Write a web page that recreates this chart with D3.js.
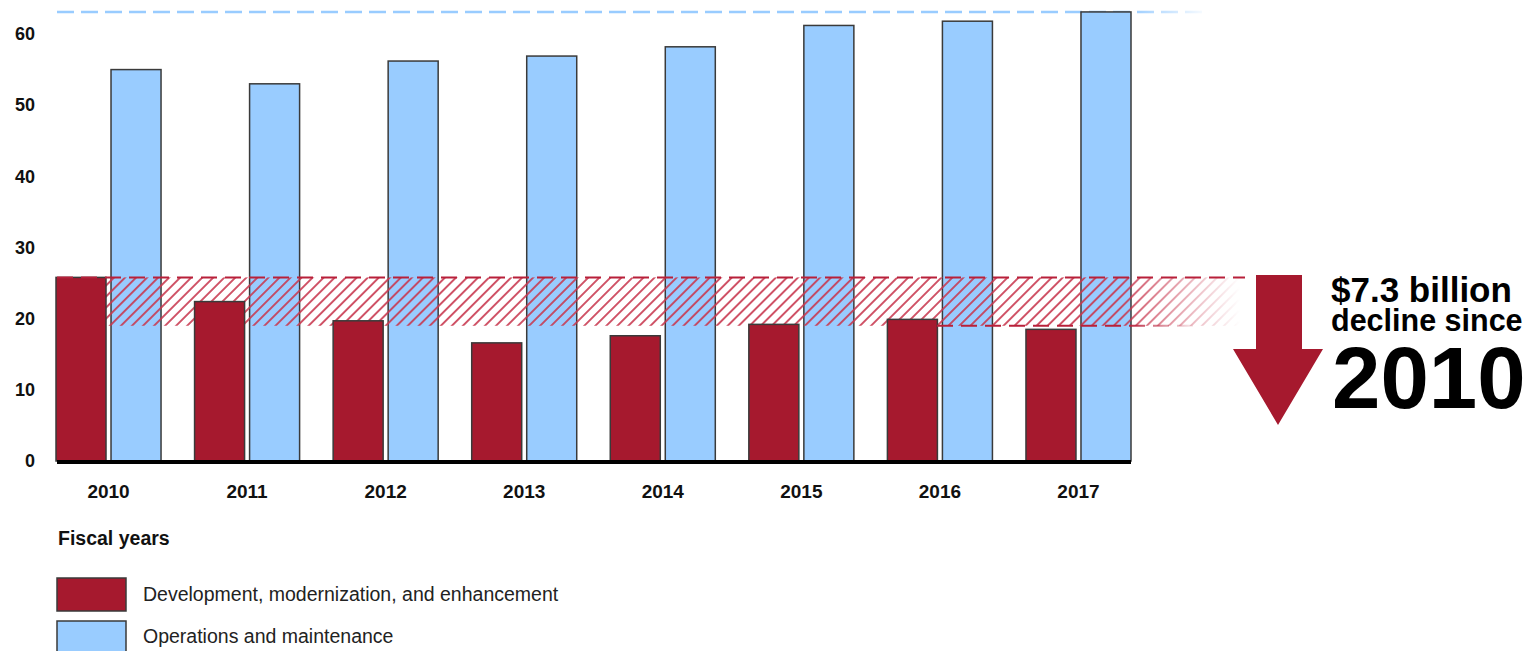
<!DOCTYPE html>
<html>
<head>
<meta charset="utf-8">
<script src="https://cdn.jsdelivr.net/npm/d3@7"></script>
<style>
  html, body { margin: 0; padding: 0; background: #fff; }
  svg { display: block; font-family: "Liberation Sans", Arial, sans-serif; }
</style>
</head>
<body>
<svg id="chart" width="1536" height="651"></svg>
<script>
// ---- data ----
const years = ["2010", "2011", "2012", "2013", "2014", "2015", "2016", "2017"];
const dme = [25.8, 22.4, 19.7, 16.6, 17.6, 19.2, 19.9, 18.5];     // Development, modernization, and enhancement
const om  = [55.0, 53.0, 56.2, 56.9, 58.2, 61.2, 61.8, 63.1];     // Operations and maintenance
const yTicks = [0, 10, 20, 30, 40, 50, 60];
const seriesNames = ["Development, modernization, and enhancement", "Operations and maintenance"];
const declineBand = [25.8, 19.0];   // hatched range annotation
const annotationLines = ["$7.3 billion", "decline since", "2010"];

const RED = "#a6192e", BLUE = "#99ccff", OUTLINE = "#3a3a3a";

const svg = d3.select("#chart");
const defs = svg.append("defs");

const x = d3.scaleBand().domain(years).range([56, 1131]).paddingInner(0.242).paddingOuter(0).align(0);
const xs = d3.scaleBand().domain(["dme", "om"]).range([0, x.bandwidth()]).paddingInner(0.0909);
const y = d3.scaleLinear().domain([0, 60]).range([461, 34]);

// hatch pattern
const pat = defs.append("pattern").attr("id", "hatch").attr("patternUnits", "userSpaceOnUse")
  .attr("width", 7.8).attr("height", 7.8).attr("patternTransform", "rotate(45)");
pat.append("line").attr("x1", 3.9).attr("y1", 0).attr("x2", 3.9).attr("y2", 7.8)
  .attr("stroke", "#c8384f").attr("stroke-width", 1.7);

function fadeMask(id, x0, x1) {
  const g = defs.append("linearGradient").attr("id", id + "g").attr("gradientUnits", "userSpaceOnUse")
    .attr("x1", x0).attr("x2", x1).attr("y1", 0).attr("y2", 0);
  g.append("stop").attr("offset", 0).attr("stop-color", "#fff").attr("stop-opacity", 1);
  g.append("stop").attr("offset", 1).attr("stop-color", "#fff").attr("stop-opacity", 0);
  defs.append("mask").attr("id", id).attr("maskUnits", "userSpaceOnUse")
    .attr("x", 0).attr("y", 0).attr("width", 1536).attr("height", 651)
    .append("rect").attr("width", 1536).attr("height", 651).attr("fill", `url(#${id}g)`);
}
fadeMask("fadeHatch", 1120, 1240);
fadeMask("fadeBlue", 1130, 1210);
fadeMask("fadeBottom", 1125, 1200);

// y-axis labels
svg.append("g").selectAll("text").data(yTicks).join("text")
  .attr("x", 35).attr("y", d => y(d)).attr("dy", "0.35em")
  .attr("text-anchor", "end").attr("font-size", 18).attr("font-weight", "bold").attr("fill", "#111")
  .text(d => d);

// blue dashed max line
const maxOm = d3.max(om);
svg.append("line").attr("x1", 57).attr("x2", 1215).attr("y1", y(maxOm)).attr("y2", y(maxOm))
  .attr("stroke", BLUE).attr("stroke-width", 2.5).attr("stroke-dasharray", "17,7")
  .attr("mask", "url(#fadeBlue)");

// O&M bars
svg.append("g").selectAll("rect").data(om).join("rect")
  .attr("x", (d, i) => x(years[i]) + xs("om"))
  .attr("y", d => y(d))
  .attr("width", xs.bandwidth())
  .attr("height", d => y(0) - y(d))
  .attr("fill", BLUE).attr("stroke", OUTLINE).attr("stroke-width", 1.5);

// hatched decline band
const bandX0 = x(years[0]) + xs("dme");
svg.append("rect").attr("x", bandX0).attr("y", y(declineBand[0]))
  .attr("width", 1245 - bandX0).attr("height", y(declineBand[1]) - y(declineBand[0]))
  .attr("fill", "url(#hatch)").attr("mask", "url(#fadeHatch)");

// DME bars
svg.append("g").selectAll("rect").data(dme).join("rect")
  .attr("x", (d, i) => x(years[i]) + xs("dme"))
  .attr("y", d => y(d))
  .attr("width", xs.bandwidth())
  .attr("height", d => y(0) - y(d))
  .attr("fill", RED).attr("stroke", OUTLINE).attr("stroke-width", 1.5);

// band dashed edges
svg.append("line").attr("x1", 57).attr("x2", 1245).attr("y1", y(declineBand[0])).attr("y2", y(declineBand[0]))
  .attr("stroke", "#b8203a").attr("stroke-width", 2).attr("stroke-dasharray", "16,8");
svg.append("line").attr("x1", 937).attr("x2", 1205).attr("y1", y(declineBand[1])).attr("y2", y(declineBand[1]))
  .attr("stroke", "#b8203a").attr("stroke-width", 2).attr("stroke-dasharray", "16,8")
  .attr("mask", "url(#fadeBottom)");

// baseline axis
svg.append("line").attr("x1", 57).attr("x2", 1131).attr("y1", y(0) + 1).attr("y2", y(0) + 1)
  .attr("stroke", "#000").attr("stroke-width", 4);

// x labels
svg.append("g").selectAll("text").data(years).join("text")
  .attr("x", d => x(d) + x.bandwidth() / 2).attr("y", 491).attr("dy", "0.35em")
  .attr("text-anchor", "middle").attr("font-size", 19).attr("font-weight", "bold").attr("fill", "#111")
  .text(d => d);

// Fiscal years
svg.append("text").attr("x", 58).attr("y", 538).attr("dy", "0.35em")
  .attr("font-size", 19.5).attr("font-weight", "bold").attr("fill", "#111").text("Fiscal years");

// legend
const legend = svg.append("g");
[RED, BLUE].forEach((c, i) => {
  legend.append("rect").attr("x", 57).attr("y", 578 + i * 43).attr("width", 69).attr("height", 33)
    .attr("fill", c).attr("stroke", OUTLINE).attr("stroke-width", 1.5);
  legend.append("text").attr("x", 143).attr("y", 594 + i * 42).attr("dy", "0.35em")
    .attr("font-size", 19.5).attr("fill", "#222").text(seriesNames[i]);
});

// arrow annotation
svg.append("path")
  .attr("d", "M1256,275 L1302,275 L1302,349 L1323,349 L1278,425 L1233,349 L1256,349 Z")
  .attr("fill", RED);

// annotation text block (one text element, three lines)
const ann = svg.append("text").attr("font-weight", "bold").attr("fill", "#000");
ann.append("tspan").attr("x", 1331).attr("y", 302).attr("font-size", 35).text(annotationLines[0]);
ann.append("tspan").attr("x", 1331).attr("y", 331).attr("font-size", 30.5).text(annotationLines[1]);
ann.append("tspan").attr("x", 1332).attr("y", 408).attr("font-size", 87).text(annotationLines[2]);
</script>
</body>
</html>
